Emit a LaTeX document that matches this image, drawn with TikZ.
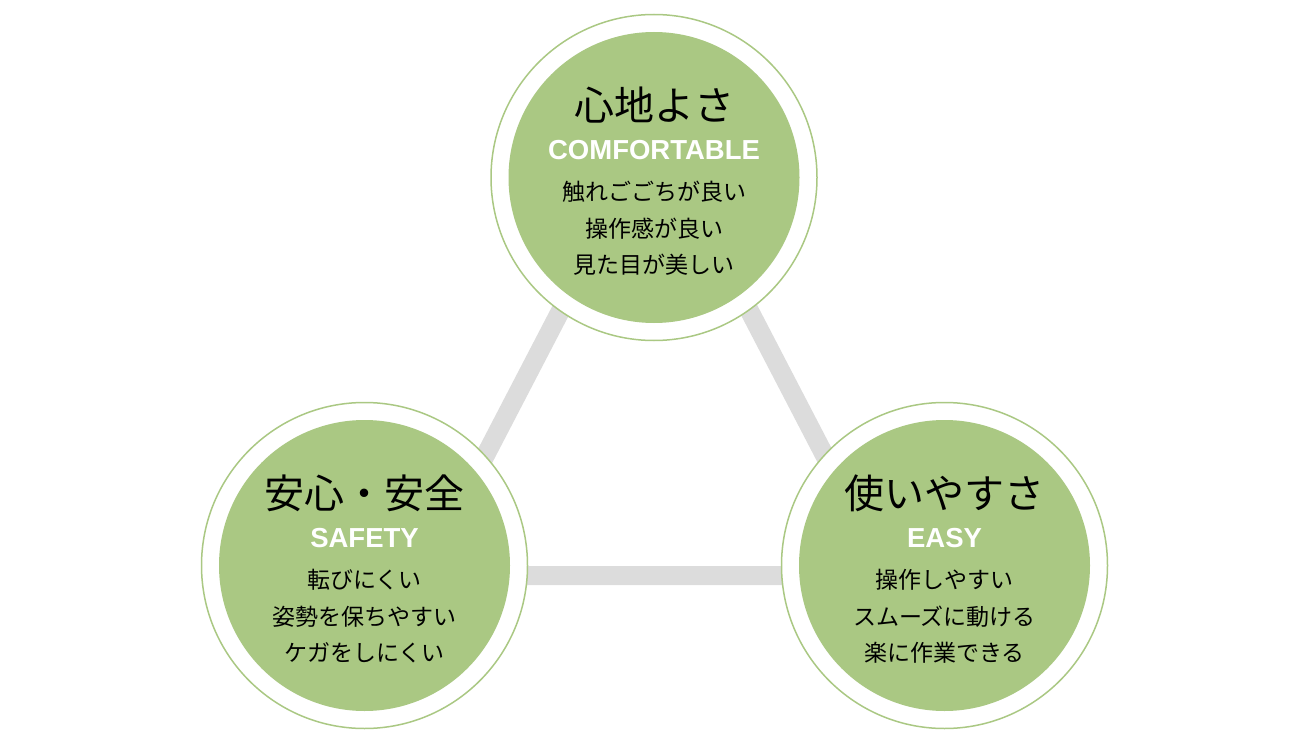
\documentclass[tikz,border=0pt]{standalone}
\usepackage{fontspec}
\newfontfamily\jpfont{Noto Sans CJK JP}
\newfontfamily\enfont{Liberation Sans}
\usetikzlibrary{positioning}
\definecolor{leafgreen}{HTML}{AAC883}
\definecolor{bargray}{HTML}{DCDCDC}
\tikzset{
  ring/.style={circle,draw=leafgreen,line width=1.5pt,fill=white,minimum size=326pt,inner sep=0pt},
  disc/.style={circle,fill=leafgreen,minimum size=291pt,inner sep=0pt},
  titletext/.style={font=\jpfont\fontsize{40}{48}\selectfont,text=black,inner sep=0pt},
  entext/.style={font=\enfont\bfseries\fontsize{27.5}{30}\selectfont,text=white,inner sep=0pt},
  bodytext/.style={font=\jpfont\fontsize{23}{36.5}\selectfont,text=black,align=center,inner sep=0pt}
}
\begin{document}
\begin{tikzpicture}[x=1pt,y=-1pt]
  \useasboundingbox (0,0) rectangle (1310,749);
  % triangle behind the circles
  \coordinate (apex) at (655,129);
  \coordinate (lcorner) at (423,575.5);
  \coordinate (rcorner) at (887,575.5);
  \draw[bargray,line width=19pt] (apex) -- (lcorner) -- (rcorner) -- cycle;
  % top: comfortable
  \node[ring] (comf) at (654,177.5) {};
  \node[disc] (comfdisc) at (comf) {};
  \node[titletext] (comftitle) at ([yshift=72pt]comf.center) {心地よさ};
  \node[entext] (comfen) at ([yshift=27pt]comf.center) {COMFORTABLE};
  \node[bodytext] (comfbody) at ([yshift=-51pt]comf.center) {触れごごちが良い\\操作感が良い\\見た目が美しい};
  % left: safety
  \node[ring] (safe) at (364.5,565.5) {};
  \node[disc] (safedisc) at (safe) {};
  \node[titletext] (safetitle) at ([yshift=72pt]safe.center) {安心・安全};
  \node[entext] (safeen) at ([yshift=27pt]safe.center) {SAFETY};
  \node[bodytext] (safebody) at ([yshift=-51pt]safe.center) {転びにくい\\姿勢を保ちやすい\\ケガをしにくい};
  % right: easy
  \node[ring] (easy) at (944.5,565.5) {};
  \node[disc] (easydisc) at (easy) {};
  \node[titletext] (easytitle) at ([yshift=72pt]easy.center) {使いやすさ};
  \node[entext] (easyen) at ([yshift=27pt]easy.center) {EASY};
  \node[bodytext] (easybody) at ([yshift=-51pt]easy.center) {操作しやすい\\スムーズに動ける\\楽に作業できる};
\end{tikzpicture}
\end{document}
